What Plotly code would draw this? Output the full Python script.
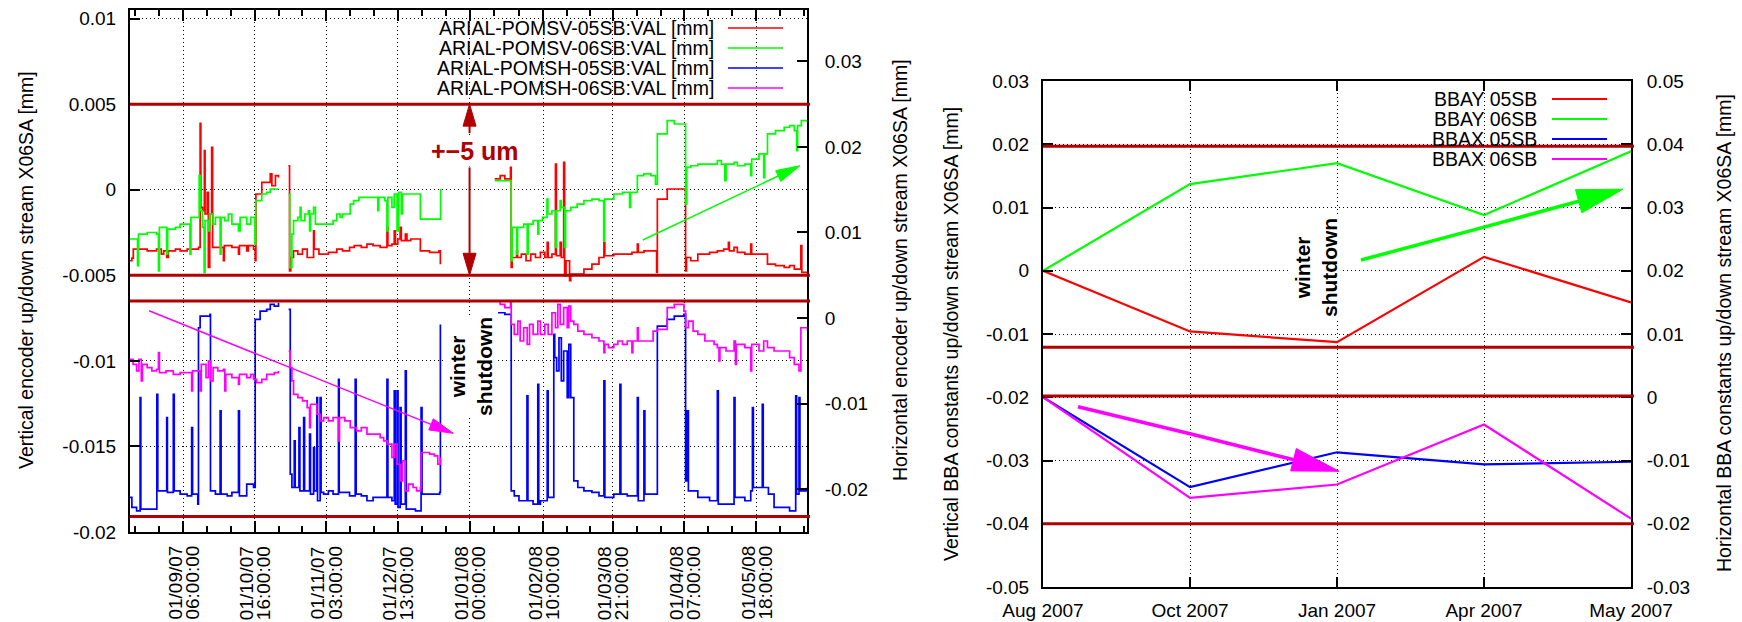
import math
import pandas as pd
import plotly.graph_objects as go

W, H = 1742, 622
FONT = "Liberation Sans, Arial, sans-serif"
DARKRED = "#b00000"
BASE = pd.Timestamp("2007-08-01")

# ---------------- encoder readings (left panel) ----------------
# (day offset from 2007-08-01, value in mm); None separates the runs
POMSV_05SB = [
    (8.7, -0.00415), (9.5, -0.00400), (10.1, -0.00347), (14.0, -0.00347), (16.0, -0.00357),
    (20.0, -0.00347), (22.0, -0.00376), (23.0, -0.00357), (24.3, -0.00396), (25.0, -0.00357),
    (28.0, -0.00347), (30.0, -0.00357), (33.0, -0.00347), (36.0, -0.00347), (37.8, -0.00337),
    (38.5, 0.00388), (38.8, -0.00103), (39.5, -0.00123), (40.3, 0.00228), (40.6, -0.00142),
    (41.5, -0.00016), (42.0, -0.00454), (42.6, -0.00142), (43.4, 0.00248), (43.8, -0.00337),
    (46.0, -0.00337), (48.4, -0.00415), (48.8, -0.00327), (52.0, -0.00337), (54.8, -0.00376),
    (55.2, -0.00327), (58.3, -0.00357), (59.0, -0.00327), (61.2, -0.00347), (61.9, -0.00415),
    (62.2, -0.00025), (64.7, 0.00043), (68.3, 0.00092), (69.0, 0.00023), (70.5, 0.00082),
    (71.8, 0.00072), None,
    (76.0, 0.00140), (76.5, -0.00474), (77.0, -0.00396), (78.2, -0.00357), (80.0, -0.00376),
    (82.0, -0.00347), (84.0, -0.00396), (86.7, -0.00240), (87.0, -0.00347), (89.0, -0.00376),
    (93.0, -0.00366), (96.6, -0.00347), (99.0, -0.00357), (102.0, -0.00337), (104.0, -0.00327),
    (107.0, -0.00337), (109.4, -0.00318), (112.0, -0.00327), (115.0, -0.00337), (117.9, -0.00220),
    (118.3, -0.00327), (120.0, -0.00318), (121.0, -0.00240), (121.5, -0.00318), (122.5, -0.00288),
    (123.5, -0.00220), (124.0, -0.00298), (125.7, -0.00259), (126.4, -0.00298), (128.0, -0.00288),
    (132.1, -0.00357), (136.0, -0.00366), (140.0, -0.00357), (140.6, -0.00435), None,
    (163.7, 0.00063), (166.0, 0.00082), (168.0, 0.00063), (170.4, 0.00140), (170.7, -0.00454),
    (171.1, -0.00396), (173.0, -0.00357), (173.4, -0.00396), (175.0, -0.00376), (177.0, -0.00415),
    (179.0, -0.00376), (181.0, -0.00396), (183.1, -0.00366), (185.0, -0.00396), (186.0, -0.00308),
    (186.4, -0.00396), (188.0, -0.00376), (189.5, 0.00150), (189.9, -0.00386), (191.5, -0.00308),
    (192.0, -0.00396), (193.0, 0.00160), (193.4, -0.00503), (194.0, -0.00415), (195.5, -0.00532),
    (196.0, -0.00493), (198.7, -0.00493), (201.6, -0.00464), (205.0, -0.00435), (208.0, -0.00396),
    (210.1, -0.00308), (210.5, -0.00386), (214.3, -0.00376), (218.0, -0.00376), (222.0, -0.00366),
    (224.3, -0.00318), (224.7, -0.00366), (227.1, -0.00357), (230.0, -0.00357), (232.5, -0.00483),
    (232.8, -0.00055), (237.0, 0.00004), (244.1, 0.00004), (244.8, -0.00474), (245.2, -0.00396),
    (247.0, -0.00415), (250.0, -0.00376), (255.0, -0.00366), (258.3, -0.00357), (261.0, -0.00347),
    (263.0, -0.00308), (263.4, -0.00357), (265.4, -0.00337), (266.8, -0.00366), (270.0, -0.00376),
    (272.5, -0.00318), (272.9, -0.00376), (276.0, -0.00376), (279.6, -0.00435), (283.0, -0.00444),
    (286.7, -0.00454), (289.0, -0.00444), (291.0, -0.00464), (293.8, -0.00327), (294.2, -0.00483),
    (296.6, -0.00493),
]

POMSV_06SB = [
    (8.7, -0.00288), (11.9, -0.00444), (12.3, -0.00259), (16.0, -0.00250), (20.0, -0.00259),
    (20.8, -0.00474), (21.2, -0.00220), (24.3, -0.00376), (24.7, -0.00230), (28.0, -0.00220),
    (30.0, -0.00201), (34.2, -0.00376), (34.6, -0.00162), (38.1, 0.00082), (38.5, -0.00123),
    (39.5, -0.00220), (40.2, -0.00483), (40.6, -0.00181), (42.0, -0.00240), (42.5, -0.00142),
    (44.0, -0.00201), (45.0, -0.00162), (47.0, -0.00376), (47.4, -0.00162), (49.0, -0.00181),
    (50.5, -0.00142), (52.0, -0.00201), (54.8, -0.00240), (55.5, -0.00162), (58.3, -0.00201),
    (60.0, -0.00162), (61.8, -0.00318), (62.1, -0.00064), (64.7, -0.00025), (66.8, -0.00016),
    (68.3, 0.00004), (71.8, 0.00004), None,
    (76.0, -0.00025), (76.6, -0.00454), (77.5, -0.00259), (78.2, -0.00181), (80.0, -0.00162),
    (81.0, -0.00103), (81.4, -0.00181), (83.0, -0.00142), (84.5, -0.00123), (85.0, -0.00240),
    (85.4, -0.00142), (86.7, -0.00103), (87.5, -0.00201), (92.0, -0.00201), (95.0, -0.00181),
    (96.6, -0.00142), (98.0, -0.00162), (99.0, -0.00142), (102.3, -0.00084), (103.7, -0.00064),
    (106.0, -0.00045), (112.2, -0.00045), (114.0, -0.00123), (114.4, -0.00045), (117.0, -0.00064),
    (117.9, -0.00240), (118.3, -0.00045), (120.0, -0.00103), (121.0, -0.00025), (122.2, -0.00240),
    (122.9, -0.00016), (124.0, -0.00142), (124.5, -0.00025), (132.1, -0.00172), (140.4, -0.00172),
    (140.7, 0.00004), None,
    (163.7, 0.00053), (170.7, -0.00415), (171.1, -0.00220), (173.0, -0.00376), (173.4, -0.00220),
    (176.0, -0.00201), (177.5, -0.00376), (177.9, -0.00201), (180.0, -0.00181), (182.0, -0.00259),
    (182.4, -0.00181), (184.0, -0.00162), (185.9, -0.00055), (186.3, -0.00142), (188.0, -0.00123),
    (189.5, -0.00337), (189.9, -0.00123), (191.5, -0.00064), (192.0, -0.00103), (193.4, -0.00337),
    (193.8, -0.00123), (196.0, -0.00103), (198.7, -0.00084), (201.6, -0.00064), (205.0, -0.00055),
    (208.0, -0.00064), (210.0, -0.00298), (210.4, -0.00055), (214.3, -0.00025), (218.0, -0.00016),
    (221.0, -0.00103), (221.4, -0.00016), (224.3, 0.00082), (227.0, 0.00092), (230.0, 0.00082),
    (232.0, 0.00033), (232.8, 0.00326), (237.0, 0.00404), (240.0, 0.00384), (244.8, -0.00084),
    (245.3, 0.00130), (247.0, 0.00140), (250.0, 0.00150), (258.3, 0.00170), (260.0, 0.00150),
    (261.5, 0.00053), (262.0, 0.00150), (265.4, 0.00160), (266.8, 0.00140), (270.0, 0.00150),
    (272.5, 0.00082), (272.9, 0.00179), (276.0, 0.00209), (278.0, 0.00070), (278.4, 0.00209),
    (279.6, 0.00326), (283.0, 0.00345), (286.7, 0.00365), (289.0, 0.00374), (291.0, 0.00345),
    (292.0, 0.00228), (292.4, 0.00374), (294.0, 0.00404), (296.6, 0.00394),
]

POMSH_05SB = [
    (8.7, -0.02096), (9.5, -0.02213), (11.5, -0.02252), (13.0, -0.00930), (13.3, -0.02232),
    (20.1, -0.00891), (20.5, -0.02019), (24.3, -0.01163), (24.6, -0.02038), (27.1, -0.00891),
    (27.5, -0.02019), (30.0, -0.02058), (33.0, -0.02077), (34.9, -0.01280), (35.3, -0.02058),
    (37.5, -0.02174), (37.8, -0.00113), (38.5, 0.00023), (42.7, 0.00043), (42.9, -0.02019),
    (45.0, -0.02058), (47.0, -0.01085), (47.4, -0.02058), (50.0, -0.02077), (52.0, -0.02038),
    (54.8, -0.01085), (55.2, -0.02077), (58.3, -0.01941), (61.2, -0.01980), (61.9, -0.00016),
    (64.0, 0.00082), (66.8, 0.00101), (68.3, 0.00159), (70.0, 0.00140), (71.8, 0.00179), None,
    (76.1, 0.00101), (76.8, -0.01824), (77.5, -0.01980), (78.5, -0.01435), (78.9, -0.01980),
    (80.5, -0.01280), (80.9, -0.02019), (82.5, -0.01163), (82.9, -0.02019), (85.0, -0.01357),
    (85.4, -0.02058), (86.7, -0.01513), (87.1, -0.02019), (88.1, -0.00930), (88.4, -0.02135),
    (89.5, -0.00930), (89.9, -0.02038), (91.0, -0.02058), (93.0, -0.02019), (95.0, -0.02058),
    (97.3, -0.00716), (97.6, -0.02038), (102.0, -0.02077), (104.4, -0.00716), (104.8, -0.02058),
    (107.0, -0.02077), (109.4, -0.02135), (112.0, -0.02096), (117.9, -0.00716), (118.3, -0.02096),
    (120.0, -0.02135), (121.0, -0.00852), (121.4, -0.02174), (122.2, -0.00852), (122.6, -0.02213),
    (123.5, -0.01046), (123.9, -0.02174), (125.7, -0.00618), (126.1, -0.02232), (130.0, -0.02252),
    (132.4, -0.01046), (132.8, -0.02058), (140.3, -0.02038), (140.6, -0.00074), None,
    (165.1, 0.00062), (168.0, 0.00043), (170.7, -0.02019), (172.0, -0.02077), (174.0, -0.02135),
    (177.4, -0.00910), (177.8, -0.02135), (180.0, -0.02174), (182.0, -0.00774), (182.4, -0.02174),
    (183.1, -0.02135), (186.0, -0.00852), (186.4, -0.02096), (188.8, -0.00191), (189.2, -0.00463),
    (190.0, -0.00618), (191.0, -0.00230), (192.0, -0.00735), (193.0, -0.00385), (194.5, -0.00930),
    (195.2, -0.00307), (196.0, -0.00930), (197.3, -0.01902), (199.0, -0.01980), (201.6, -0.02019),
    (205.0, -0.02038), (208.0, -0.02077), (210.1, -0.00735), (210.5, -0.02096), (214.3, -0.02058),
    (216.9, -0.00774), (217.3, -0.02058), (220.0, -0.02077), (224.3, -0.00930), (224.7, -0.02135),
    (227.1, -0.01085), (227.5, -0.02058), (232.8, -0.00094), (237.0, -0.00016), (240.0, 0.00023),
    (244.1, 0.00043), (244.8, -0.01902), (245.5, -0.01085), (246.0, -0.02019), (250.0, -0.02096),
    (255.0, -0.02135), (258.3, -0.00852), (258.7, -0.02174), (265.4, -0.00930), (265.8, -0.02096),
    (270.0, -0.02135), (272.5, -0.02019), (273.2, -0.01046), (273.6, -0.01980), (277.4, -0.01007),
    (277.8, -0.01980), (280.0, -0.02058), (282.4, -0.02213), (289.0, -0.02252), (291.6, -0.00910),
    (292.0, -0.02058), (293.0, -0.00930), (293.4, -0.02019), (296.6, -0.01980),
]

POMSH_06SB = [
    (8.7, -0.00482), (10.0, -0.00540), (11.5, -0.00618), (12.5, -0.00482), (13.5, -0.00735),
    (14.0, -0.00540), (16.0, -0.00579), (18.0, -0.00618), (20.0, -0.00598), (20.8, -0.00405),
    (21.2, -0.00638), (24.0, -0.00618), (27.1, -0.00657), (30.0, -0.00638), (34.9, -0.00852),
    (35.3, -0.00618), (38.5, -0.00852), (39.0, -0.00540), (41.0, -0.00696), (42.0, -0.00502),
    (43.0, -0.00735), (44.0, -0.00579), (46.0, -0.00618), (48.4, -0.00598), (49.0, -0.00852),
    (49.4, -0.00657), (52.0, -0.00696), (54.8, -0.00774), (55.2, -0.00657), (58.3, -0.00696),
    (60.0, -0.00657), (61.2, -0.00716), (62.5, -0.00755), (64.7, -0.00716), (66.8, -0.00657),
    (70.0, -0.00638), (71.8, -0.00618), None,
    (76.1, -0.00385), (76.8, -0.00579), (77.5, -0.00735), (78.2, -0.00891), (80.0, -0.00930),
    (82.0, -0.00968), (84.0, -0.01046), (85.0, -0.01280), (85.4, -0.01007), (88.1, -0.01124),
    (89.5, -0.01202), (91.0, -0.01163), (93.0, -0.01202), (95.0, -0.01163), (97.3, -0.01435),
    (97.7, -0.01163), (100.0, -0.01202), (102.3, -0.01280), (105.0, -0.01318), (107.0, -0.01280),
    (109.4, -0.01357), (115.0, -0.01396), (116.5, -0.01435), (118.0, -0.01474), (120.0, -0.01629),
    (121.0, -0.01474), (122.2, -0.01708), (123.6, -0.01902), (124.5, -0.01669), (125.7, -0.02019),
    (127.0, -0.01941), (129.0, -0.01980), (130.5, -0.02019), (132.1, -0.01980), (132.4, -0.01571),
    (136.0, -0.01591), (138.0, -0.01610), (139.5, -0.01708), (140.6, -0.01629), None,
    (163.7, 0.00198), (166.0, 0.00159), (168.0, 0.00121), (170.4, 0.00198), (170.7, -0.00074),
    (172.0, -0.00191), (173.5, -0.00035), (174.5, -0.00268), (176.0, -0.00113), (177.5, -0.00307),
    (178.5, -0.00074), (180.0, -0.00191), (182.0, -0.00035), (183.1, -0.00191), (185.0, -0.00074),
    (186.4, -0.00191), (188.0, 0.00062), (189.5, -0.00113), (190.5, 0.00159), (191.5, -0.00074),
    (193.0, 0.00121), (194.5, -0.00113), (195.2, 0.00140), (196.0, -0.00035), (197.3, -0.00074),
    (199.0, -0.00152), (201.6, -0.00191), (205.0, -0.00230), (208.0, -0.00268), (210.1, -0.00405),
    (210.5, -0.00307), (212.0, -0.00346), (214.3, -0.00307), (216.0, -0.00268), (218.0, -0.00307),
    (220.0, -0.00268), (222.0, -0.00405), (222.4, -0.00268), (224.3, -0.00113), (224.7, -0.00268),
    (229.0, -0.00268), (231.0, -0.00152), (232.8, -0.00132), (237.0, 0.00121), (240.0, 0.00159),
    (244.1, 0.00082), (244.8, -0.00113), (246.0, -0.00035), (248.0, -0.00152), (250.0, -0.00191),
    (253.0, -0.00268), (256.9, -0.00307), (258.3, -0.00346), (259.0, -0.00502), (259.4, -0.00346),
    (262.0, -0.00385), (265.4, -0.00268), (266.0, -0.00540), (266.4, -0.00307), (270.0, -0.00346),
    (272.5, -0.00618), (272.9, -0.00307), (276.0, -0.00385), (278.0, -0.00268), (279.6, -0.00346),
    (282.4, -0.00385), (286.7, -0.00385), (289.0, -0.00463), (291.0, -0.00540), (293.0, -0.00618),
    (293.8, -0.00113), (294.5, -0.00113), (296.6, -0.00152),
]

ENC_NAMES = ["ARIAL-POMSV-05SB:VAL [mm]", "ARIAL-POMSV-06SB:VAL [mm]",
             "ARIAL-POMSH-05SB:VAL [mm]", "ARIAL-POMSH-06SB:VAL [mm]"]
COLORS = ["#ff0000", "#00ff00", "#0000ff", "#ff00ff"]

TIME_TICKS = ["01/09/07 06:00:00", "01/10/07 16:00:00", "01/11/07 03:00:00",
              "01/12/07 13:00:00", "01/01/08 00:00:00", "01/02/08 10:00:00",
              "01/03/08 21:00:00", "01/04/08 07:00:00", "01/05/08 18:00:00"]
ENC_V_TICKS = [0.01, 0.005, 0, -0.005, -0.01, -0.015, -0.02]
ENC_V_LABELS = ["0.01", "0.005", "0", "-0.005", "-0.01", "-0.015", "-0.02"]
ENC_H_TICKS = [0.03, 0.02, 0.01, 0, -0.01, -0.02]
ENC_H_LABELS = ["0.03", "0.02", "0.01", "0", "-0.01", "-0.02"]
ENC_LIMITS = [0.005, -0.005, -0.0065, -0.0191]

# ---------------- BBA constants (right panel) ----------------
BBA_MONTHS = ["Aug 2007", "Oct 2007", "Jan 2007", "Apr 2007", "May 2007"]
BBAY_05SB = [0.0, -0.0096, -0.0113, 0.0022, -0.0050]
BBAY_06SB = [0.0, 0.0137, 0.0170, 0.0088, 0.0189]
BBAX_05SB = [0.0, -0.0142, -0.0087, -0.0106, -0.0102]
BBAX_06SB = [0.0, -0.0159, -0.0138, -0.0043, -0.0192]
BBA_NAMES = ["BBAY 05SB", "BBAY 06SB", "BBAX 05SB", "BBAX 06SB"]
BBA_V_TICKS = [0.03, 0.02, 0.01, 0, -0.01, -0.02, -0.03, -0.04, -0.05]
BBA_V_LABELS = ["0.03", "0.02", "0.01", "0", "-0.01", "-0.02", "-0.03", "-0.04", "-0.05"]
BBA_H_TICKS = [0.05, 0.04, 0.03, 0.02, 0.01, 0, -0.01, -0.02, -0.03]
BBA_H_LABELS = ["0.05", "0.04", "0.03", "0.02", "0.01", "0", "-0.01", "-0.02", "-0.03"]
BBA_LIMITS = [0.0197, -0.0121, -0.0198, -0.04]

# ---------------- geometry ----------------
LP = (130, 807, 10, 532)      # left panel box in px: x0, x1, y0 (top), y1 (bottom)
RP = (1043, 1631, 81, 587)
DAY_RANGE = [8.7, 296.4]
ENC_V_RANGE = [-0.02, 0.0105]
ENC_H_RANGE = [-0.025, 0.036]
BBA_X_RANGE = [0, 4]
BBA_V_RANGE = [-0.05, 0.03]
BBA_H_RANGE = [-0.03, 0.05]


def to_date(d):
    return BASE + pd.Timedelta(seconds=round(d * 86400))


def unzip(pairs):
    xs, ys = [], []
    for p in pairs:
        if p is None:
            xs.append(None)
            ys.append(None)
        else:
            xs.append(to_date(p[0]))
            ys.append(p[1])
    return xs, ys


def xdom(p):
    return [p[0] / W, p[1] / W]


def ydom(p):
    return [1 - p[3] / H, 1 - p[2] / H]


def to_px(panel, xr, yr, x, y):
    x0, x1, y0, y1 = panel
    px = x0 + (x - xr[0]) / (xr[1] - xr[0]) * (x1 - x0)
    py = y1 - (y - yr[0]) / (yr[1] - yr[0]) * (y1 - y0)
    return px, py


def from_px(panel, xr, yr, px, py):
    x0, x1, y0, y1 = panel
    x = xr[0] + (px - x0) / (x1 - x0) * (xr[1] - xr[0])
    y = yr[0] + (y1 - py) / (y1 - y0) * (yr[1] - yr[0])
    return x, y


def pp(pt):
    return f"{pt[0] / W:.5f},{1 - pt[1] / H:.5f}"


shapes = []
annotations = []


def arrow(pts, color, width, head_len, head_half):
    """Polyline ending in a filled triangular head; pts given in px."""
    (ax_, ay_), (bx_, by_) = pts[-2], pts[-1]
    L = math.hypot(bx_ - ax_, by_ - ay_)
    ux, uy = (bx_ - ax_) / L, (by_ - ay_) / L
    nx, ny = -uy, ux
    base = (bx_ - head_len * ux, by_ - head_len * uy)
    shaft = list(pts[:-1]) + [base]
    shapes.append(dict(type="path", xref="paper", yref="paper",
                       path="M" + " L".join(pp(p) for p in shaft),
                       line=dict(color=color, width=width)))
    tri = [(bx_, by_), (base[0] + head_half * nx, base[1] + head_half * ny),
           (base[0] - head_half * nx, base[1] - head_half * ny)]
    shapes.append(dict(type="path", xref="paper", yref="paper",
                       path="M" + " L".join(pp(p) for p in tri) + " Z",
                       fillcolor=color, line=dict(color=color, width=1)))


fig = go.Figure()

# ---------------- left panel traces ----------------
for pairs, name, color, yax in zip([POMSV_05SB, POMSV_06SB, POMSH_05SB, POMSH_06SB],
                                   ENC_NAMES, COLORS, ["y", "y", "y2", "y2"]):
    xs, ys = unzip(pairs)
    fig.add_trace(go.Scatter(x=xs, y=ys, name=name, mode="lines", xaxis="x", yaxis=yax,
                             line=dict(color=color, width=1.7, shape="hv"),
                             connectgaps=False, showlegend=False))

# ---------------- right panel traces ----------------
bx = list(range(len(BBA_MONTHS)))
for vals, name, color, yax in zip([BBAY_05SB, BBAY_06SB, BBAX_05SB, BBAX_06SB],
                                  BBA_NAMES, COLORS, ["y3", "y3", "y4", "y4"]):
    fig.add_trace(go.Scatter(x=bx, y=vals, name=name, mode="lines", xaxis="x2", yaxis=yax,
                             line=dict(color=color, width=2.2), showlegend=False))

# key backgrounds (hide grid under the keys)
kx0, ky0 = from_px(LP, DAY_RANGE, ENC_V_RANGE, 433, 100)
shapes.append(dict(type="rect", xref="x", yref="y", x0=to_date(kx0), x1=to_date(DAY_RANGE[1]),
                   y0=ky0, y1=ENC_V_RANGE[1], fillcolor="white", line=dict(width=0), layer="below"))
rx0, ry0 = from_px(RP, BBA_X_RANGE, BBA_V_RANGE, 1432, 168)
shapes.append(dict(type="rect", xref="x2", yref="y3", x0=rx0, x1=BBA_X_RANGE[1],
                   y0=ry0, y1=BBA_V_RANGE[1], fillcolor="white", line=dict(width=0), layer="below"))

# ---------------- limit lines ----------------
for v in ENC_LIMITS:
    shapes.append(dict(type="line", xref="paper", yref="y", x0=LP[0] / W, x1=(LP[1] + 3) / W,
                       y0=v, y1=v, line=dict(color=DARKRED, width=3), layer="above"))
for v in BBA_LIMITS:
    shapes.append(dict(type="line", xref="paper", yref="y3", x0=RP[0] / W, x1=(RP[1] + 3) / W,
                       y0=v, y1=v, line=dict(color=DARKRED, width=3), layer="above"))


# ---------------- keys ----------------
def key(rows_y, text_right, line_x0, line_x1, names, lw):
    for yy, name, color in zip(rows_y, names, COLORS):
        annotations.append(dict(xref="paper", yref="paper", x=text_right / W, y=1 - yy / H,
                                text=name, showarrow=False, xanchor="right", yanchor="middle",
                                font=dict(family=FONT, size=19.5, color="black")))
        shapes.append(dict(type="line", xref="paper", yref="paper",
                           x0=line_x0 / W, x1=line_x1 / W, y0=1 - yy / H, y1=1 - yy / H,
                           line=dict(color=color, width=lw)))


key([28, 48, 68, 88], 716, 728, 783, ENC_NAMES, 1.7)
key([99, 119, 139, 159], 1539, 1552, 1607, BBA_NAMES, 2.2)

# ---------------- arrows ----------------
lp = lambda x, y: to_px(LP, DAY_RANGE, ENC_V_RANGE, x, y)
lp2 = lambda x, y: to_px(LP, DAY_RANGE, ENC_H_RANGE, x, y)
rp = lambda x, y: to_px(RP, BBA_X_RANGE, BBA_V_RANGE, x, y)

jan1 = (pd.to_datetime(TIME_TICKS[4], format="%d/%m/%y %H:%M:%S") - BASE) / pd.Timedelta(days=1)
arrow([lp(jan1, 0.0033), lp(jan1, 0.005)], DARKRED, 2, 22, 6.5)
arrow([lp(jan1, 0.0013), lp(jan1, -0.005)], DARKRED, 2, 22, 6.5)
arrow([lp(226.6, -0.00294), lp(293.4, 0.0014)], "#00ff00", 1.5, 24, 6)
arrow([lp2(16.8, 0.00085), lp2(146.1, -0.01347)], "#ff00ff", 1.5, 24, 6)
arrow([rp(2.163, 0.0017), rp(3.0, 0.0069), rp(3.946, 0.0129)], "#00ff00", 3.5, 46, 12)
arrow([rp(0.238, -0.0215), rp(1.007, -0.0258), rp(2.014, -0.0317)], "#ff00ff", 3.5, 47, 11.5)


# ---------------- text labels ----------------
def ptxt(x, y, text, size, angle=0, bold=False, color="black", bg=None, **kw):
    d = dict(xref="paper", yref="paper", x=x / W, y=1 - y / H,
             text=f"<b>{text}</b>" if bold else text,
             showarrow=False, textangle=angle, font=dict(family=FONT, size=size, color=color),
             xanchor="center", yanchor="middle")
    if bg:
        d["bgcolor"] = bg
    d.update(kw)
    annotations.append(d)


ptxt(475, 151, "+\u22125 um", 25, bold=True, color=DARKRED, bg="white")
ptxt(471, 367, "winter<br>shutdown", 21, angle=-90, bold=True, bg="white")
ptxt(1316, 268, "winter<br>shutdown", 21, angle=-90, bold=True, bg="white")

ptxt(26, 270, "Vertical encoder up/down stream X06SA [mm]", 19.5, angle=-90)
ptxt(900, 270, "Horizontal encoder up/down stream X06SA [mm]", 19.5, angle=-90)
ptxt(951, 334, "Vertical BBA constants up/down stream X06SA [mm]", 19.5, angle=-90)
ptxt(1724, 333, "Horizontal BBA constants up/down stream X06SA [mm]", 19.5, angle=-90)

# date tick labels, two rotated lines per tick
tick_dates = [pd.to_datetime(t, format="%d/%m/%y %H:%M:%S") for t in TIME_TICKS]
for t, lab in zip(tick_dates, TIME_TICKS):
    d_part, t_part = lab.split(" ")
    for text, shift in ((d_part, -8.5), (t_part, 8.5)):
        annotations.append(dict(xref="x", yref="paper", x=t, y=1 - 544 / H, text=text,
                                showarrow=False, textangle=-90, xshift=shift,
                                xanchor="center", yanchor="top",
                                font=dict(family=FONT, size=19, color="black")))

# minor ticks at thirds of each major interval
step = tick_dates[1] - tick_dates[0]
minor = []
for i in range(-1, len(tick_dates)):
    a = tick_dates[i] if i >= 0 else tick_dates[0] - step
    b = tick_dates[i + 1] if i + 1 < len(tick_dates) else a + step
    minor += [a + (b - a) / 3, a + 2 * (b - a) / 3]
minor = [m.floor("s") for m in minor]

GRID = dict(showgrid=True, gridcolor="#000000", gridwidth=1, griddash="1px,3px")
AX = dict(showline=True, linecolor="black", linewidth=2, ticks="inside", tickcolor="black",
          tickwidth=1.5, zeroline=False, tickfont=dict(family=FONT, size=19, color="black"))

fig.update_layout(
    width=W, height=H, margin=dict(l=0, r=0, t=0, b=0),
    template="none", paper_bgcolor="white", plot_bgcolor="white", showlegend=False,
    xaxis=dict(domain=xdom(LP), anchor="y", type="date",
               range=[to_date(DAY_RANGE[0]), to_date(DAY_RANGE[1])],
               tickmode="array", tickvals=tick_dates, showticklabels=False,
               ticklen=11, mirror="ticks",
               minor=dict(tickmode="array", tickvals=minor, ticks="inside", ticklen=6,
                          tickwidth=1.5, tickcolor="black", showgrid=False),
               **GRID, **AX),
    yaxis=dict(domain=ydom(LP), anchor="x", range=ENC_V_RANGE, tickmode="array",
               tickvals=ENC_V_TICKS, ticktext=ENC_V_LABELS, ticklen=10,
               ticklabelstandoff=8, **GRID, **AX),
    yaxis2=dict(overlaying="y", side="right", anchor="x", range=ENC_H_RANGE, tickmode="array",
                tickvals=ENC_H_TICKS, ticktext=ENC_H_LABELS, ticklen=10, showgrid=False,
                ticklabelstandoff=12, **AX),
    xaxis2=dict(domain=xdom(RP), anchor="y3", range=BBA_X_RANGE, tickmode="array",
                tickvals=bx, ticktext=BBA_MONTHS, ticklen=10, mirror="ticks",
                ticklabelstandoff=5, **GRID, **AX),
    yaxis3=dict(domain=ydom(RP), anchor="x2", range=BBA_V_RANGE, tickmode="array",
                tickvals=BBA_V_TICKS, ticktext=BBA_V_LABELS, ticklen=10,
                ticklabelstandoff=8, **GRID, **AX),
    yaxis4=dict(overlaying="y3", side="right", anchor="x2", range=BBA_H_RANGE, tickmode="array",
                tickvals=BBA_H_TICKS, ticktext=BBA_H_LABELS, ticklen=10, showgrid=False,
                ticklabelstandoff=10, **AX),
    shapes=shapes, annotations=annotations,
)

fig.write_html("out.html")
